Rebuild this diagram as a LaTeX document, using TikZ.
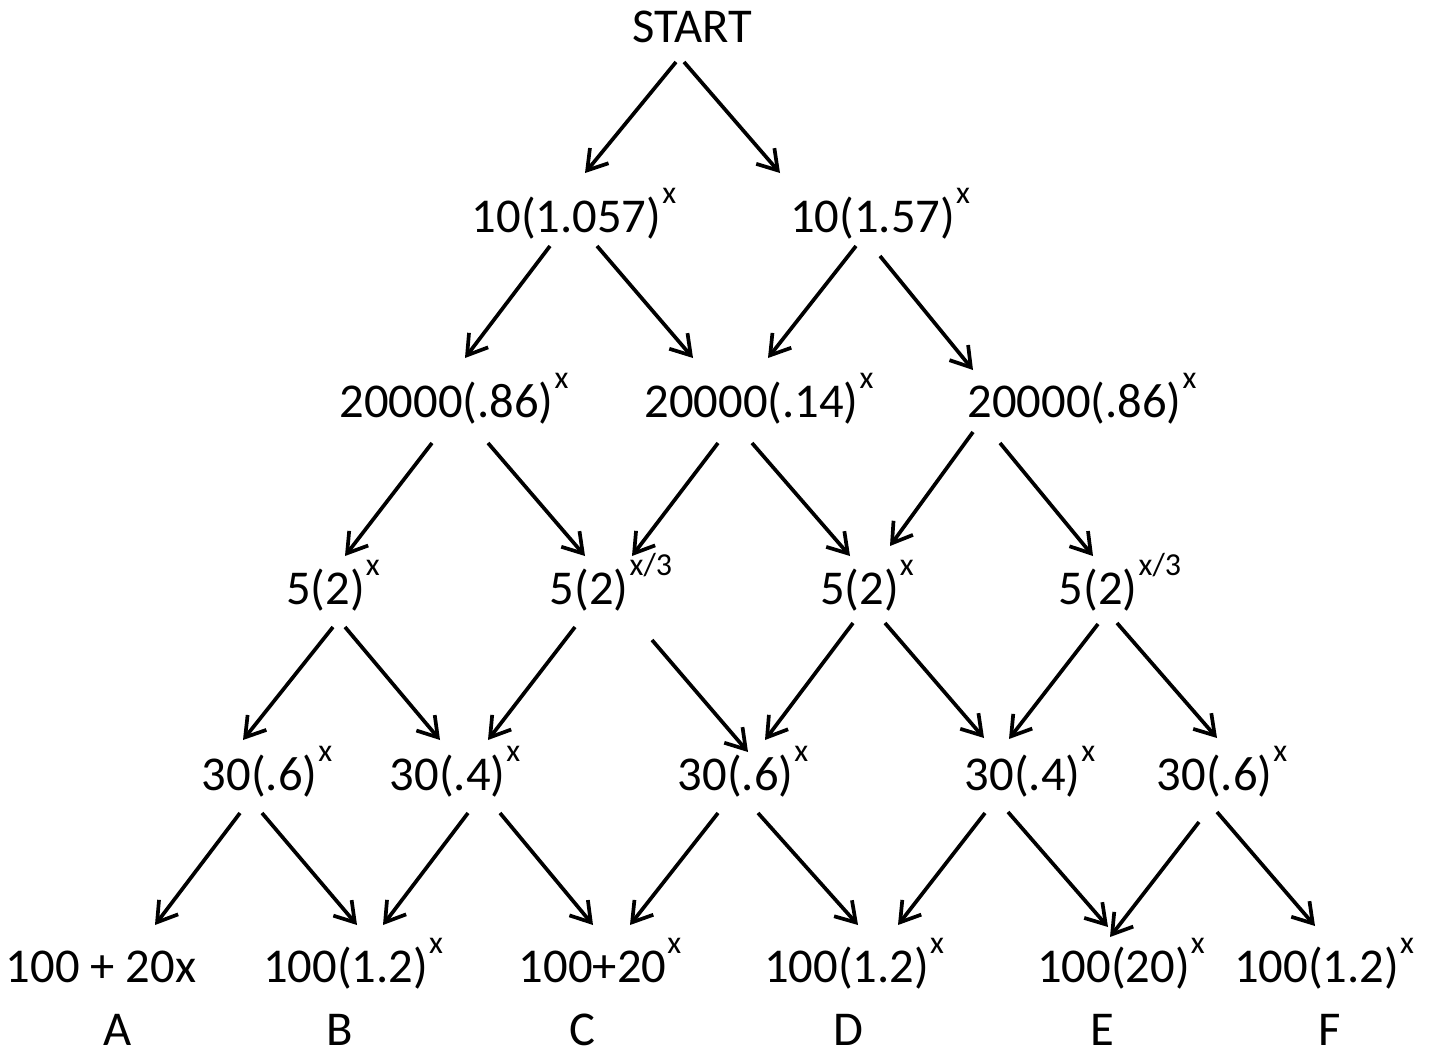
\documentclass[tikz,border=0pt]{standalone}
\usepackage{fontspec}
\setmainfont{Carlito}
\usetikzlibrary{arrows.meta}
\newcommand\supx[1]{\kern0.5pt\raisebox{14.5pt}{\fontsize{16pt}{17pt}\selectfont #1}}
\tikzset{
  lbl/.style={anchor=base, inner sep=0pt, font=\fontsize{24.3pt}{28pt}\selectfont},
  arr/.style={line width=1.85pt, -{Straight Barb[length=9.5pt,width=12pt,line width=1.85pt]}}
}
\begin{document}
\begin{tikzpicture}[x=0.5pt,y=-0.5pt]
\useasboundingbox (0,0) rectangle (1430,1055);
% nodes
\node[lbl] (start) at (692,42) {START};
\node[lbl] (n11) at (574,232) {10(1.057)\supx{x}};
\node[lbl] (n12) at (880,232) {10(1.57)\supx{x}};
\node[lbl] (n21) at (454,417) {20000(.86)\supx{x}};
\node[lbl] (n22) at (759,417) {20000(.14)\supx{x}};
\node[lbl] (n23) at (1082,417) {20000(.86)\supx{x}};
\node[lbl] (n31) at (333,604) {5(2)\supx{x}};
\node[lbl] (n32) at (611,604) {5(2)\supx{x/3}};
\node[lbl] (n33) at (867,604) {5(2)\supx{x}};
\node[lbl] (n34) at (1120,604) {5(2)\supx{x/3}};
\node[lbl] (n41) at (267,790) {30(.6)\supx{x}};
\node[lbl] (n42) at (455,790) {30(.4)\supx{x}};
\node[lbl] (n43) at (743,790) {30(.6)\supx{x}};
\node[lbl] (n44) at (1030,790) {30(.4)\supx{x}};
\node[lbl] (n45) at (1222,790) {30(.6)\supx{x}};
\node[lbl] (b1) at (101,982) {100 + 20x};
\node[lbl] (b2) at (353,982) {100(1.2)\supx{x}};
\node[lbl] (b3) at (600,982) {100+20\supx{x}};
\node[lbl] (b4) at (854,982) {100(1.2)\supx{x}};
\node[lbl] (b5) at (1121,982) {100(20)\supx{x}};
\node[lbl] (b6) at (1324,982) {100(1.2)\supx{x}};
\node[lbl] (la) at (118,1045) {A};
\node[lbl] (lb) at (340,1045) {B};
\node[lbl] (lc) at (582,1045) {C};
\node[lbl] (ld) at (848,1045) {D};
\node[lbl] (le) at (1102,1045) {E};
\node[lbl] (lf) at (1330,1045) {F};
% connectors
\foreach \sx/\sy/\ex/\ey [count=\i] in {
  676/62/585/173, 684/62/780/173,
  550/246/465/358, 597/246/693/358, 856/246/768/358, 880/256/973/370,
  432/443/345/556, 488/443/585/556, 718/443/632/556, 752/443/850/556, 973/432/890/546, 1000/443/1093/556,
  333/627/243/740, 345/627/440/740, 575/627/488/740, 652/640/748/752, 853/623/765/740, 885/623/984/738, 1098/624/1009/739, 1117/623/1217/738,
  240/813/155/925, 262/813/357/925, 468/813/383/925, 500/813/593/925, 718/813/630/925, 758/813/858/925, 985/813/898/925, 1008/812/1108/927, 1199/822/1110/937, 1217/812/1315/926}
{
  \coordinate (s\i) at (\sx,\sy);
  \coordinate (e\i) at (\ex,\ey);
  \draw[arr] (s\i) -- (e\i);
}
\end{tikzpicture}
\end{document}
